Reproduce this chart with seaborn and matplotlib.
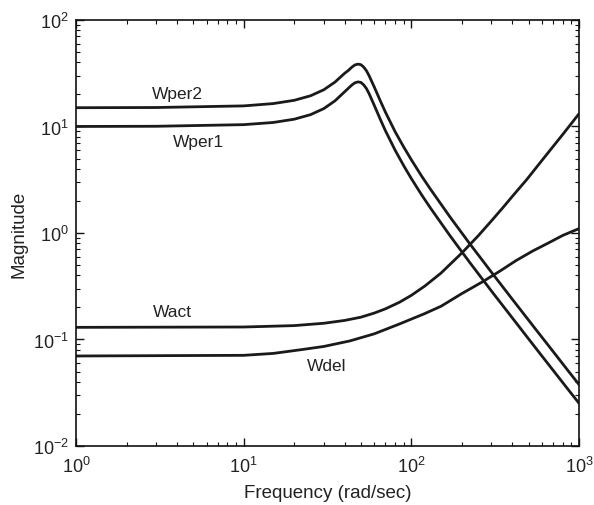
import pandas as pd
import seaborn as sns
import matplotlib.pyplot as plt
import numpy as np

# values (rad/sec, magnitude)
freq_per = [1, 3, 10, 15, 20, 25, 30, 35, 40, 42, 44, 46, 48, 50, 52, 54,
            56, 60, 65, 70, 80, 90, 100, 115, 130, 170, 220, 300, 400, 550,
            700, 850, 1000]
wper1 = [10.0, 10.04, 10.4, 10.9, 11.7, 12.9, 14.7, 17.4, 21.2, 22.8, 24.4,
         25.7, 26.2, 25.9, 24.5, 22.6, 20.2, 15.8, 11.8, 9.1, 5.97, 4.27,
         3.23, 2.28, 1.71, 0.94, 0.542, 0.285, 0.159, 0.0833, 0.0513,
         0.0347, 0.0251]
wper2 = [15.0, 15.06, 15.6, 16.4, 17.6, 19.4, 22.1, 26.1, 31.6, 33.5, 35.9,
         37.8, 38.5, 38.0, 36.0, 33.2, 29.8, 23.5, 17.6, 13.6, 8.9, 6.4,
         4.85, 3.42, 2.57, 1.41, 0.813, 0.428, 0.238, 0.125, 0.077, 0.052,
         0.0376]

freq_act = [1, 10, 20, 30, 40, 50, 60, 70, 85, 100, 120, 150, 200, 250, 300,
            350, 400, 489, 600, 700, 800, 900, 1000]
wact = [0.130, 0.131, 0.135, 0.142, 0.151, 0.162, 0.177, 0.194, 0.224, 0.26,
        0.317, 0.42, 0.65, 0.94, 1.30, 1.72, 2.21, 3.2, 4.8, 6.5, 8.45,
        10.7, 13.2]

freq_del = [1, 10, 15, 21.7, 30, 43, 60, 85, 120, 150, 200, 267, 338, 420,
            531, 650, 800, 1000]
wdel = [0.070, 0.071, 0.074, 0.080, 0.086, 0.097, 0.113, 0.14, 0.175, 0.205,
        0.27, 0.35, 0.44, 0.55, 0.68, 0.80, 0.95, 1.10]

label_pos = {"Wper2": (4.0, 20.2), "Wper1": (5.34, 7.15),
             "Wact": (3.74, 0.185), "Wdel": (31.4, 0.0564)}

frames = []
for name, f, m in [("Wper1", freq_per, wper1), ("Wper2", freq_per, wper2),
                   ("Wact", freq_act, wact), ("Wdel", freq_del, wdel)]:
    frames.append(pd.DataFrame({"freq": f, "mag": m, "curve": name}))
df = pd.concat(frames, ignore_index=True)

sns.set_style("ticks")
plt.rcParams['font.family'] = ['Liberation Sans', 'DejaVu Sans']
plt.rcParams['mathtext.default'] = 'regular'
plt.rcParams['axes.unicode_minus'] = False

fig = plt.figure(figsize=(5.94, 5.06), dpi=100)
ax = fig.add_axes([0.128, 0.1166, 0.847, 0.842])

sns.lineplot(data=df, x="freq", y="mag", hue="curve", units="curve",
             estimator=None, palette=["#1a1a1a"] * 4, linewidth=2.0,
             legend=False, ax=ax)

ax.set_xscale("log")
ax.set_yscale("log")
ax.set_xlim(1, 1000)
ax.set_ylim(0.01, 100)

for name, (x, y) in label_pos.items():
    ax.text(x, y, name, ha="center", va="center", fontsize=12.5,
            color="#222222")

ax.set_xlabel("Frequency (rad/sec)", fontsize=13.5, color="#222222",
              labelpad=6)
ax.set_ylabel("Magnitude", fontsize=13.5, color="#222222", labelpad=4)

ax.tick_params(which="both", direction="in", top=True, right=True,
               colors="#111111", labelcolor="#222222", labelsize=13)
ax.tick_params(which="major", length=6, width=1)
ax.tick_params(which="minor", length=3, width=0.8)
ax.tick_params(axis="x", which="major", pad=7)
ax.tick_params(axis="y", which="major", pad=5)
for sp in ax.spines.values():
    sp.set_linewidth(1.2)
    sp.set_color("#111111")

fig.savefig("out.png", dpi=100)
